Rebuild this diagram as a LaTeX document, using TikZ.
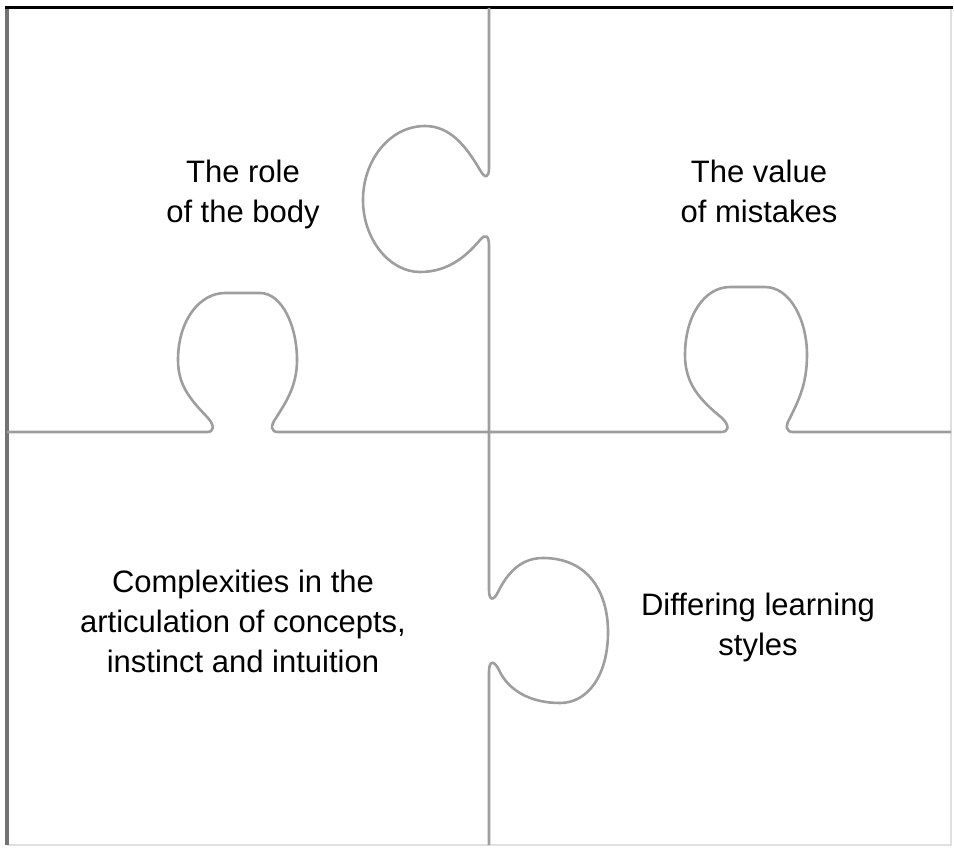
\documentclass[tikz,border=0pt]{standalone}
\usepackage{fontspec}
\setmainfont{Liberation Sans}
\usepackage{xcolor}
\usepackage{tikz}
\tikzset{
  cutline/.style={draw=black!38, line width=2.6pt, line join=round},
  piecetext/.style={align=center, inner sep=0pt, text centered, font=\fontsize{31}{40}\selectfont}
}

\begin{document}
\begin{tikzpicture}[x=1pt,y=-1pt]
			\useasboundingbox (0,0) rectangle (954,848);
			% frame
			\draw[black!12, line width=2pt] (951,8) -- (951,845) -- (7,845);
			\draw[black!55, line width=3.5pt] (7,845) -- (7,8);
			\draw[black, line width=3pt] (5,8) -- (953,8);
			% vertical cut with two knobs
			\draw[cutline] (489,8) -- (489,168)
				.. controls (489,178) and (485,179) .. (480,170)
				.. controls (466,146) and (450,126) .. (425,126)
				.. controls (390,126) and (363,160) .. (363,200)
				.. controls (363,240) and (390,272) .. (420,272)
				.. controls (450,272) and (468,254) .. (480,240)
				.. controls (486,233) and (489,236) .. (489,246)
				-- (489,590)
				.. controls (489,600) and (493,602) .. (498,592)
				.. controls (507,574) and (520,558) .. (543,558)
				.. controls (588,558) and (608,592) .. (608,632)
				.. controls (608,675) and (588,703) .. (560,703)
				.. controls (530,703) and (508,690) .. (499,670)
				.. controls (494,660) and (489,660) .. (489,672)
				-- (489,845);
			% horizontal cut with two knobs
			\draw[cutline] (7,432) -- (207,432)
				.. controls (214,432) and (215,426) .. (208,418)
				.. controls (191,400) and (178,386) .. (178,360)
				.. controls (178,320) and (200,293) .. (225,293)
				-- (260,293)
				.. controls (282,293) and (297,326) .. (297,360)
				.. controls (297,386) and (286,402) .. (276,418)
				.. controls (270,426) and (271,432) .. (278,432)
				-- (721,432)
				.. controls (729,432) and (730,426) .. (722,418)
				.. controls (700,400) and (685,384) .. (685,355)
				.. controls (685,315) and (705,287) .. (730,287)
				-- (765,287)
				.. controls (790,287) and (807,320) .. (807,355)
				.. controls (807,386) and (797,403) .. (790,418)
				.. controls (785,426) and (786,432) .. (793,432)
				-- (951,432);
			% texts
			\node[piecetext] (body) at (243,194) {The role\\of the body};
			\node[piecetext] (mistakes) at (759,191) {The value\\of mistakes};
			\node[piecetext] (concepts) at (243,621) {Complexities in the\\articulation of concepts,\\instinct and intuition};
			\node[piecetext] (styles) at (758,627) {Differing learning\\styles};
\end{tikzpicture}
\end{document}
